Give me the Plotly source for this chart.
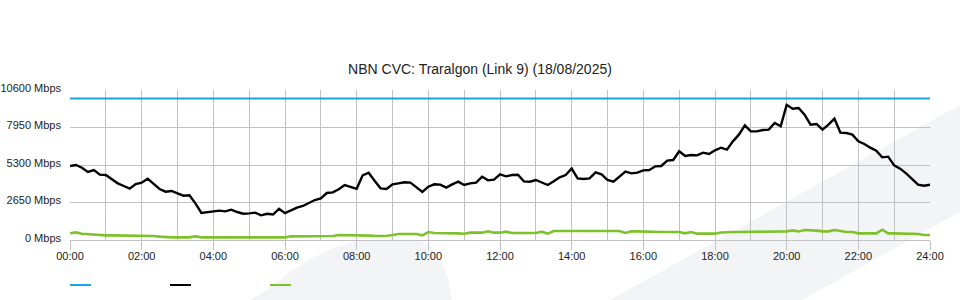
import plotly.graph_objects as go

# ---------------- data (10-minute samples, 00:00 .. 24:00) ----------------
sample_minutes = 10
traffic_mbps = [
    5230, 5300, 5110, 4805, 4947, 4616, 4593, 4311, 4004, 3816, 3627, 3957,
    4051, 4334, 3957, 3604, 3415, 3463, 3298, 3132, 3156, 2591, 1908, 1955,
    2002, 2073, 2026, 2144, 1979, 1861, 1884, 1932, 1743, 1850, 1800, 2200,
    1900, 2120, 2285, 2403, 2591, 2827, 2945, 3321, 3368, 3580, 3887, 3769,
    3620,
    4569, 4758, 4193, 3651, 3604, 3934, 4004, 4075, 4051, 3700, 3400, 3769,
    3934, 3910, 3698, 3934, 4122, 3887, 4004, 4051, 4475, 4216, 4263, 4640,
    4499, 4593, 4616, 4145, 4122, 4240, 4051, 3887, 4145, 4428, 4593, 5050,
    4357, 4311, 4357, 4782, 4640, 4240, 4122, 4475, 4829, 4711, 4758, 4920,
    4947, 5206, 5229, 5606, 5653, 6265, 5936, 6007, 5983, 6172, 6077, 6336,
    6525, 6383, 6972, 7443, 8100, 7679, 7679, 7773, 7797, 8268, 8033, 9550,
    9281, 9328, 8857, 8150, 8197, 7797, 8150, 8574, 7584, 7561, 7443, 6972,
    6784, 6525, 6312, 5841, 5889, 5276, 5041, 4711, 4287, 3910, 3840, 3910,
]
other_mbps = [
    471, 540, 440, 410, 380, 330, 330, 330, 330, 330, 330, 330,
    330, 330, 283, 240, 188, 188, 188, 188, 188, 259, 188, 188,
    188, 188, 188, 188, 188, 188, 188, 188, 188, 188, 236, 188,
    188, 259, 259, 283, 283, 283, 283, 283, 283, 353, 353, 353,
    353,
    306, 306, 290, 283, 283, 350, 424, 424, 424, 424, 330, 565,
    495, 495, 495, 495, 470, 440, 518, 518, 518, 612, 518, 518,
    589, 495, 495, 495, 495, 495, 589, 450, 636, 636, 636, 636,
    636, 636, 636, 636, 636, 636, 636, 636, 495, 612, 612, 590,
    565, 565, 565, 565, 565, 565, 471, 565, 448, 448, 448, 448,
    530, 565, 565, 565, 565, 565, 565, 565, 612, 612, 612, 612,
    680, 600, 707, 707, 660, 612, 612, 707, 612, 565, 565, 471,
    471, 490, 471, 730, 471, 471, 471, 424, 424, 424, 353, 353,
]
capacity_hours = [0, 24]
capacity_mbps = [10000, 10000]

hours = [i * sample_minutes / 60 for i in range(len(traffic_mbps))]

y_tick_vals = [0, 2650, 5300, 7950, 10600]
y_tick_text = ["0 Mbps", "2650 Mbps", "5300 Mbps", "7950 Mbps", "10600 Mbps"]
x_tick_vals = list(range(0, 25, 2))
x_tick_text = ["00:00", "02:00", "04:00", "06:00", "08:00", "10:00", "12:00",
               "14:00", "16:00", "18:00", "20:00", "22:00", "24:00"]

BLUE = "#1ba3e3"
BLACK = "#000000"
GREEN = "#7fc12a"
GRID = "#c2c2c2"
WM = "#f3f4f6"

# ---------------- figure ----------------
fig = go.Figure()
fig.add_trace(go.Scatter(x=capacity_hours, y=capacity_mbps, mode="lines",
                         line=dict(color=BLUE, width=2.2), showlegend=False,
                         hoverinfo="skip"))
fig.add_trace(go.Scatter(x=hours, y=other_mbps, mode="lines",
                         line=dict(color=GREEN, width=2.6), showlegend=False))
fig.add_trace(go.Scatter(x=hours, y=traffic_mbps, mode="lines",
                         line=dict(color=BLACK, width=2.4), showlegend=False))

L, R, T, B = 70, 30, 90, 60
PW, PH = 960 - L - R, 300 - T - B


def to_paper(x, y):
    return (x - L) / PW, (300 - B - y) / PH


def path_from(points):
    pts = [to_paper(x, y) for x, y in points]
    return "M " + " L ".join(f"{a:.4f},{b:.4f}" for a, b in pts) + " Z"


shapes = []
# faint watermark decorations
band = [(610, 300), (960, 105), (960, 212), (802, 300)]
blob = [(250, 300), (270, 288), (290, 272), (310, 259), (333, 248), (352, 242),
        (380, 239.5), (417, 239.5), (430, 246), (440, 260), (448, 278), (452, 300)]
for poly in (band, blob):
    shapes.append(dict(type="path", path=path_from(poly), xref="paper", yref="paper",
                       fillcolor=WM, line=dict(width=0), layer="below"))
# legend swatches (no text)
for x0, col in ((70, BLUE), (170, BLACK), (270, GREEN)):
    a0, b0 = to_paper(x0, 285)
    a1, _ = to_paper(x0 + 21, 285)
    shapes.append(dict(type="line", xref="paper", yref="paper", x0=a0, x1=a1,
                       y0=b0, y1=b0, line=dict(color=col, width=2)))

fig.update_layout(
    width=960, height=300,
    margin=dict(l=L, r=R, t=T, b=B, autoexpand=False),
    paper_bgcolor="white", plot_bgcolor="rgba(0,0,0,0)",
    font=dict(family="Liberation Sans, Arial, sans-serif", size=11, color="#222"),
    title=dict(text="NBN CVC: Traralgon (Link 9) (18/08/2025)", x=0.5, xref="container",
               xanchor="center", y=1 - 69 / 300, yref="container", yanchor="middle",
               font=dict(size=14, color="#222")),
    shapes=shapes,
    showlegend=False,
    xaxis=dict(range=[0, 24], tickmode="array", tickvals=x_tick_vals, ticktext=x_tick_text,
               showgrid=True, gridcolor=GRID, gridwidth=1,
               minor=dict(tickmode="linear", tick0=0, dtick=1, showgrid=True,
                          gridcolor=GRID, gridwidth=1, ticks=""),
               ticks="outside", ticklen=9, tickcolor=GRID, tickwidth=1,
               ticklabelstandoff=-3,
               showline=True, linecolor=GRID, linewidth=1, zeroline=False,
               fixedrange=True),
    yaxis=dict(range=[0, 10600], tickmode="array", tickvals=y_tick_vals, ticktext=y_tick_text,
               showgrid=True, gridcolor=GRID, gridwidth=1, zeroline=False,
               ticks="", ticklabelstandoff=8, ticklabelshift=-2, fixedrange=True),
)

fig.write_html("out.html")
